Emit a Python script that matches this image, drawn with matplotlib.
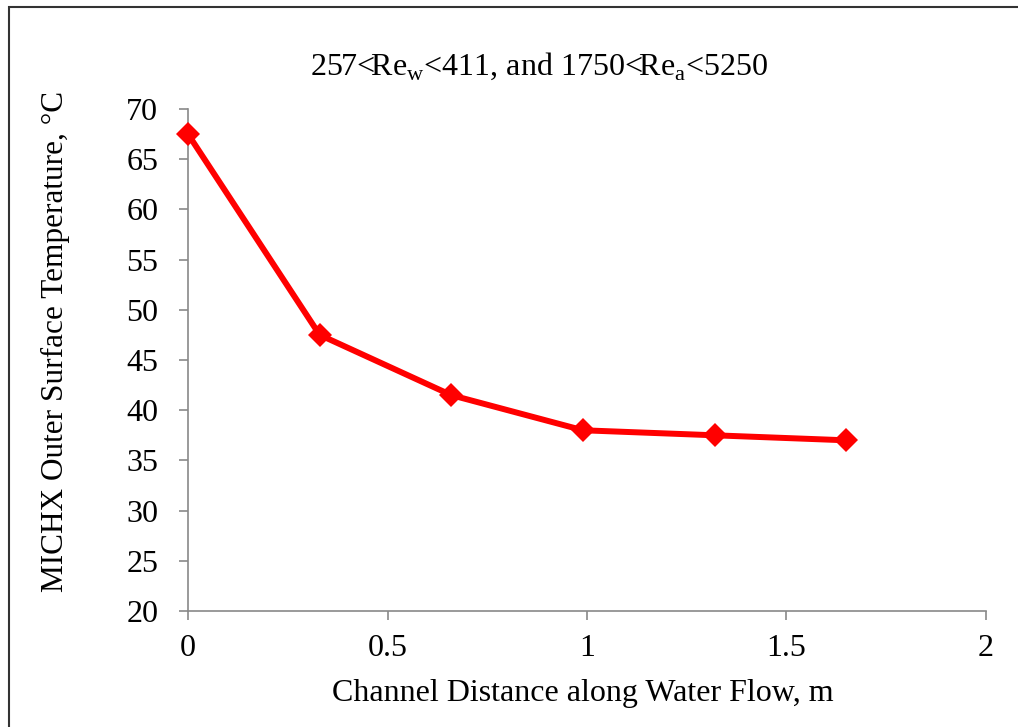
import matplotlib
matplotlib.use("Agg")
import matplotlib.pyplot as plt
from matplotlib.patches import Rectangle

# data
distance = [0, 0.33, 0.66, 0.99, 1.32, 1.65]
temperature = [67.5, 47.5, 41.5, 38.0, 37.5, 37.0]
x_ticks = [0, 0.5, 1, 1.5, 2]
x_tick_labels = ["0", "0.5", "1", "1.5", "2"]
y_ticks = [20, 25, 30, 35, 40, 45, 50, 55, 60, 65, 70]

plt.rcParams['font.family'] = ['Liberation Serif', 'DejaVu Serif']
plt.rcParams['mathtext.fontset'] = 'custom'
plt.rcParams['mathtext.rm'] = 'Liberation Serif'

W, H = 1018, 727
fig = plt.figure(figsize=(W / 100, H / 100), dpi=100)
ax = fig.add_axes([188 / W, 1 - 611 / H, (986 - 188) / W, (611 - 109) / H])

ax.plot(distance, temperature, color='#ff0000', linewidth=4.3,
        marker='D', markersize=12.5, markeredgewidth=0, zorder=3,
        clip_on=False)

ax.set_xlim(0, 2)
ax.set_ylim(20, 70)
ax.set_xticks(x_ticks)
ax.set_xticklabels(x_tick_labels)
ax.set_yticks(y_ticks)

for s in ['top', 'right']:
    ax.spines[s].set_visible(False)
for s in ['left', 'bottom']:
    ax.spines[s].set_color('#898989')
    ax.spines[s].set_linewidth(1.2)
ax.tick_params(direction='out', length=6.5, width=1.2, color='#898989',
               labelsize=23, labelcolor='black')
ax.tick_params(axis='y', pad=15)
ax.tick_params(axis='x', pad=10)

fig.text(539 / W, 1 - 66 / H,
         "257<Re$_\\mathregular{w}$<411, and 1750<Re$_\\mathregular{a}$<5250",
         ha='center', va='center', fontsize=23)
fig.text(583 / W, 1 - 693 / H, "Channel Distance along Water Flow, m",
         ha='center', va='center', fontsize=23)
fig.text(55 / W, 1 - 341 / H, "MICHX Outer Surface Temperature, °C",
         ha='center', va='center', rotation=90, fontsize=22.5)

# frame around the chart area
fig.patches.append(Rectangle((9 / W, -0.1), 1.2, (1 - 7 / H) + 0.1,
                             transform=fig.transFigure, fill=False,
                             edgecolor='#333333', linewidth=1.5))

fig.savefig("out.png", dpi=100)
